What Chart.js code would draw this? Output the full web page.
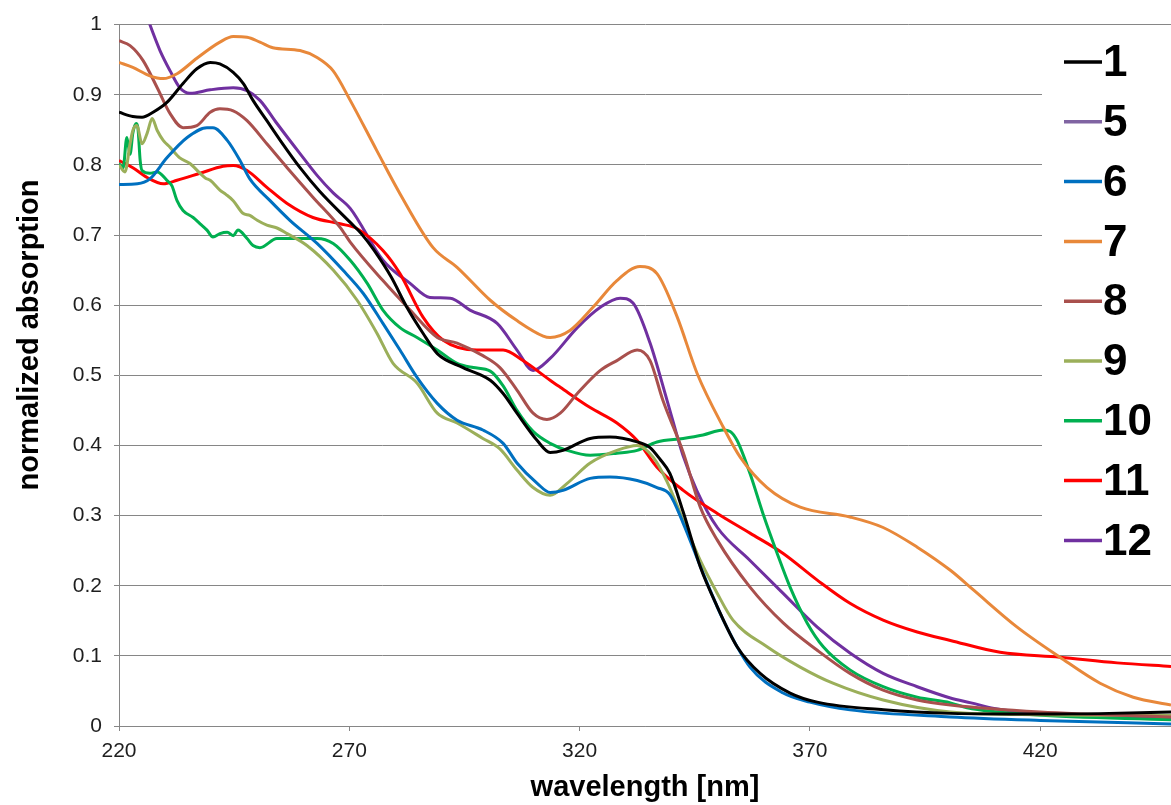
<!DOCTYPE html>
<html>
<head>
<meta charset="utf-8">
<script src="https://cdn.jsdelivr.net/npm/chart.js@4/dist/chart.umd.min.js"></script>
<style>
  html, body { margin: 0; padding: 0; background: #fff; }
  #wrap { width: 1171px; height: 805px; position: relative; }
</style>
</head>
<body>
<div id="wrap"><canvas id="c"></canvas></div>
<script>
// UV-Vis absorption spectra, normalized (wavelength in nm)
const seriesLabels = ['1', '5', '6', '7', '8', '9', '10', '11', '12'];
const seriesColors = ['#000000', '#8064A2', '#0070C0', '#E8883A', '#A9504D', '#9BAF5A', '#00B050', '#FF0000', '#7030A0'];

const xTicks = [220, 270, 320, 370, 420];
const yTicks = [0, 0.1, 0.2, 0.3, 0.4, 0.5, 0.6, 0.7, 0.8, 0.9, 1];
const yTickLabels = ['0', '0.1', '0.2', '0.3', '0.4', '0.5', '0.6', '0.7', '0.8', '0.9', '1'];

const xTitle = 'wavelength [nm]';
const yTitle = 'normalized absorption';

// compound 1
const s1_nm  = [220, 223, 225, 227.4, 230.4, 233.9, 236.9, 239.8, 241.9, 244.8, 247, 249.1, 252.1, 255, 259.3, 263.6, 270.2, 272.6, 275.4, 279.1, 282.5, 286, 289.1, 294.7, 300.6, 303.4, 306.4, 310.8, 313.6, 316.4, 322.3, 326.6, 332.5, 335.3, 337.5, 339.6, 342.5, 346.2, 349.9, 354.2, 359.2, 365.7, 371.6, 386, 400.5, 420, 435, 448.4];
const s1_abs = [0.875, 0.869, 0.868, 0.875, 0.889, 0.916, 0.937, 0.946, 0.944, 0.932, 0.916, 0.892, 0.863, 0.835, 0.796, 0.762, 0.718, 0.702, 0.678, 0.64, 0.597, 0.56, 0.531, 0.511, 0.493, 0.474, 0.446, 0.407, 0.39, 0.393, 0.41, 0.412, 0.405, 0.397, 0.38, 0.36, 0.305, 0.227, 0.17, 0.113, 0.075, 0.047, 0.034, 0.023, 0.018, 0.017, 0.018, 0.02];

// compound 5
const s5_nm  = [];
const s5_abs = [];

// compound 6
const s6_nm  = [220, 224, 226.7, 230.4, 234.8, 239.1, 240.4, 243.5, 246.3, 248.4, 252.8, 257.1, 263, 268.6, 273, 277.3, 281, 284.7, 289.1, 293.4, 299, 303.4, 306.4, 310.8, 313.6, 316.4, 322.3, 326.6, 332.5, 336.8, 339.6, 342.5, 346.8, 351.2, 357, 364.2, 370, 378.7, 400.5, 420, 448.4];
const s6_abs = [0.772, 0.773, 0.78, 0.81, 0.839, 0.853, 0.853, 0.835, 0.806, 0.78, 0.749, 0.721, 0.688, 0.65, 0.617, 0.574, 0.536, 0.497, 0.46, 0.436, 0.422, 0.403, 0.375, 0.346, 0.333, 0.336, 0.353, 0.355, 0.35, 0.34, 0.33, 0.289, 0.218, 0.151, 0.084, 0.047, 0.034, 0.023, 0.013, 0.008, 0.003];

// compound 7
const s7_nm  = [220, 223, 226.7, 229.6, 232.6, 236.9, 241.9, 244.8, 247.8, 250.6, 253.4, 259.3, 263, 266.5, 270.2, 276, 281, 288.2, 293.4, 300.6, 306.4, 312.1, 313.6, 317.9, 322.9, 328.1, 333.1, 336.8, 341.2, 345.5, 351.2, 354.9, 360.7, 367.9, 378.7, 385.9, 393.3, 400.5, 405.5, 415, 424.3, 433, 440.2, 448.4];
const s7_abs = [0.946, 0.939, 0.927, 0.923, 0.93, 0.952, 0.975, 0.983, 0.982, 0.975, 0.967, 0.963, 0.953, 0.934, 0.892, 0.82, 0.759, 0.682, 0.654, 0.607, 0.578, 0.556, 0.554, 0.564, 0.597, 0.635, 0.655, 0.645, 0.583, 0.503, 0.426, 0.383, 0.34, 0.312, 0.298, 0.283, 0.255, 0.222, 0.194, 0.141, 0.098, 0.061, 0.041, 0.03];

// compound 8
const s8_nm  = [220, 222.4, 225.2, 228.3, 231.1, 233.9, 236.9, 239.8, 241.9, 244.8, 247.8, 252.1, 256.5, 262.1, 268, 270.2, 277.3, 283.2, 289.1, 293.4, 299, 302.7, 306.4, 309.9, 312.9, 315.8, 319.5, 324.5, 328.1, 332.5, 335.3, 338.1, 342.5, 346.2, 349.9, 357, 364.2, 371.6, 378.7, 385.9, 393.3, 400.5, 420, 448.4];
const s8_abs = [0.977, 0.97, 0.949, 0.91, 0.873, 0.853, 0.856, 0.875, 0.88, 0.877, 0.863, 0.83, 0.796, 0.754, 0.711, 0.69, 0.635, 0.593, 0.554, 0.546, 0.528, 0.511, 0.479, 0.446, 0.437, 0.446, 0.474, 0.507, 0.521, 0.536, 0.521, 0.464, 0.39, 0.312, 0.265, 0.198, 0.147, 0.108, 0.075, 0.051, 0.037, 0.03, 0.02, 0.013];

// compound 9
const s9_nm  = [220, 221.3, 222.4, 223, 223.9, 225, 226.1, 227.2, 228.3, 229.6, 231.1, 233.2, 235.4, 237.6, 238.8, 239.8, 241.9, 243.2, 244.8, 246.9, 248.4, 250, 252.1, 254.3, 256.5, 260.8, 266.5, 271.7, 276, 279.5, 284.7, 289.1, 293.4, 299, 302.7, 306.4, 309.9, 313.6, 317.3, 322.3, 328.1, 332.5, 336, 339, 342.5, 346.2, 349.9, 353.3, 360.7, 367.9, 375, 385.9, 400.5, 420, 448.4];
const s9_abs = [0.80, 0.79, 0.83, 0.849, 0.856, 0.83, 0.845, 0.866, 0.849, 0.835, 0.825, 0.81, 0.802, 0.788, 0.781, 0.778, 0.764, 0.758, 0.749, 0.731, 0.728, 0.721, 0.714, 0.71, 0.702, 0.685, 0.65, 0.607, 0.56, 0.517, 0.489, 0.446, 0.432, 0.41, 0.395, 0.365, 0.34, 0.329, 0.346, 0.375, 0.393, 0.4, 0.383, 0.348, 0.293, 0.236, 0.189, 0.151, 0.113, 0.084, 0.061, 0.037, 0.02, 0.016, 0.015];

// compound 10
const s10_nm  = [220, 220.9, 221.7, 222.4, 223, 223.7, 224.1, 224.6, 225, 226.7, 228.3, 230.4, 231.5, 232.6, 233.9, 236.1, 237.6, 239.1, 240.4, 241.9, 243.5, 244.8, 245.8, 247.8, 249.1, 250.6, 254.3, 263, 266.5, 270.2, 273.9, 277.3, 281, 284.7, 289.1, 293.4, 296.9, 300.6, 303.4, 306.4, 309.9, 313.6, 317.3, 322.3, 328.1, 332.5, 336.8, 342.5, 346.8, 351.2, 352.7, 354.2, 357, 359.8, 362.9, 365.7, 369.4, 372.9, 378.7, 385.9, 393.3, 400.5, 404.1, 418.5, 448.4];
const s10_abs = [0.802, 0.796, 0.839, 0.815, 0.845, 0.859, 0.853, 0.806, 0.792, 0.788, 0.79, 0.778, 0.77, 0.749, 0.735, 0.725, 0.716, 0.707, 0.697, 0.702, 0.704, 0.699, 0.707, 0.695, 0.685, 0.682, 0.695, 0.695, 0.688, 0.664, 0.631, 0.593, 0.568, 0.554, 0.536, 0.517, 0.511, 0.506, 0.485, 0.45, 0.42, 0.403, 0.393, 0.386, 0.389, 0.393, 0.405, 0.41, 0.415, 0.422, 0.42, 0.407, 0.36, 0.303, 0.246, 0.198, 0.147, 0.113, 0.08, 0.056, 0.041, 0.033, 0.026, 0.016, 0.009];

// compound 11
const s11_nm  = [220, 223, 226.1, 229.6, 232.6, 237.6, 242.6, 244.8, 247.8, 252.1, 256.5, 262.1, 268, 271.7, 277.3, 281, 286, 290.4, 297.7, 303.4, 307.7, 313.6, 315.8, 322.3, 328.1, 332.5, 336.8, 342.5, 349.9, 357, 364.2, 371.6, 378.7, 385.9, 393.3, 400.5, 411.3, 424.3, 436.7, 448.4];
const s11_abs = [0.806, 0.796, 0.782, 0.773, 0.778, 0.788, 0.798, 0.799, 0.792, 0.768, 0.745, 0.725, 0.716, 0.709, 0.678, 0.645, 0.583, 0.55, 0.536, 0.536, 0.521, 0.493, 0.483, 0.454, 0.432, 0.407, 0.369, 0.336, 0.303, 0.275, 0.246, 0.208, 0.175, 0.151, 0.134, 0.122, 0.105, 0.098, 0.09, 0.085];

// compound 12
const s12_nm  = [223.5, 226.7, 228.9, 231.1, 233.2, 235.4, 239.8, 244.8, 247.8, 250.6, 254.3, 259.3, 263, 266.5, 270.2, 277.3, 283.2, 287.5, 291.9, 296.2, 302.1, 306.4, 309.9, 313.6, 319.5, 324.5, 328.8, 331.6, 335.3, 339, 342.5, 345.5, 349.9, 357, 364.2, 371.6, 378.7, 385.9, 393.3, 400.5, 405, 410, 420, 435, 448.4];
const s12_abs = [1.06, 1.0, 0.963, 0.934, 0.91, 0.902, 0.907, 0.91, 0.906, 0.892, 0.859, 0.816, 0.785, 0.76, 0.738, 0.664, 0.631, 0.611, 0.61, 0.593, 0.574, 0.536, 0.507, 0.524, 0.568, 0.597, 0.61, 0.603, 0.546, 0.464, 0.385, 0.335, 0.283, 0.236, 0.189, 0.141, 0.104, 0.075, 0.056, 0.04, 0.033, 0.025, 0.017, 0.013, 0.01];

const seriesNm  = [s1_nm, s5_nm, s6_nm, s7_nm, s8_nm, s9_nm, s10_nm, s11_nm, s12_nm];
const seriesAbs = [s1_abs, s5_abs, s6_abs, s7_abs, s8_abs, s9_abs, s10_abs, s11_abs, s12_abs];

const xMin = 220, xMax = 448.4;

const FONT = '"Liberation Sans", Arial, sans-serif';

const datasets = seriesLabels.map((lab, i) => ({
  label: lab,
  data: seriesNm[i].map((x, k) => ({ x: x, y: seriesAbs[i][k] })),
  borderColor: seriesColors[i],
  backgroundColor: seriesColors[i],
  borderWidth: 3,
  pointRadius: 0,
  cubicInterpolationMode: 'monotone',
  fill: false
}));

// vertical axis title, centred a little above the middle of the axis
const yAxisTitle = {
  id: 'yAxisTitle',
  afterDraw(chart) {
    const ctx = chart.ctx;
    ctx.save();
    ctx.translate(30, 335);
    ctx.rotate(-Math.PI / 2);
    ctx.font = 'bold 29px ' + FONT;
    ctx.fillStyle = '#000000';
    ctx.textAlign = 'center';
    ctx.textBaseline = 'middle';
    ctx.fillText(yTitle, 0, 0);
    ctx.restore();
  }
};

// the legend sits on a white box at the right, inside the plot
const sideLegend = {
  id: 'sideLegend',
  afterDraw(chart) {
    const ctx = chart.ctx;
    const area = chart.chartArea;
    const boxLeft = 1042, boxTop = area.top + 4, boxBottom = 570;
    ctx.save();
    ctx.fillStyle = '#ffffff';
    ctx.fillRect(boxLeft, boxTop, chart.width - boxLeft, boxBottom - boxTop);
    ctx.font = 'bold 44px ' + FONT;
    ctx.textBaseline = 'middle';
    ctx.textAlign = 'left';
    chart.data.datasets.forEach((ds, i) => {
      const cy = 62 + i * 59.8;
      ctx.strokeStyle = ds.borderColor;
      ctx.lineWidth = 3.5;
      ctx.beginPath();
      ctx.moveTo(1064, cy);
      ctx.lineTo(1102, cy);
      ctx.stroke();
      ctx.fillStyle = '#000000';
      ctx.fillText(ds.label, 1103, cy + 2);
    });
    ctx.restore();
  }
};

new Chart(document.getElementById('c'), {
  type: 'line',
  data: { datasets: datasets },
  plugins: [yAxisTitle, sideLegend],
  options: {
    responsive: true,
    maintainAspectRatio: false,
    animation: false,
    layout: { padding: { top: 24, right: 0, bottom: 0, left: 0 } },
    plugins: {
      legend: { display: false },
      tooltip: { enabled: false }
    },
    scales: {
      x: {
        type: 'linear',
        min: xMin,
        max: xMax,
        afterBuildTicks(scale) { scale.ticks = xTicks.map(v => ({ value: v })); },
        afterFit(scale) { scale.height = 79; },
        grid: { display: true, drawOnChartArea: false, drawTicks: true, tickLength: 5, color: '#868686' },
        border: { display: true, color: '#868686', width: 1 },
        ticks: { font: { family: FONT, size: 21 }, color: '#1e1e1e', padding: 8, maxRotation: 0 },
        title: {
          display: true,
          text: xTitle,
          font: { family: FONT, size: 29, weight: 'bold' },
          color: '#000000',
          padding: { top: 0, bottom: 0 }
        }
      },
      y: {
        type: 'linear',
        min: 0,
        max: 1,
        afterBuildTicks(scale) { scale.ticks = yTicks.map(v => ({ value: v })); },
        afterFit(scale) { scale.width = 119; },
        grid: { display: true, drawTicks: true, tickLength: 5, color: '#868686' },
        border: { display: true, color: '#868686', width: 1 },
        ticks: {
          font: { family: FONT, size: 21 },
          color: '#1e1e1e',
          padding: 12,
          callback: (v, idx) => yTickLabels[idx]
        },
        title: { display: false }
      }
    }
  }
});
</script>
</body>
</html>
